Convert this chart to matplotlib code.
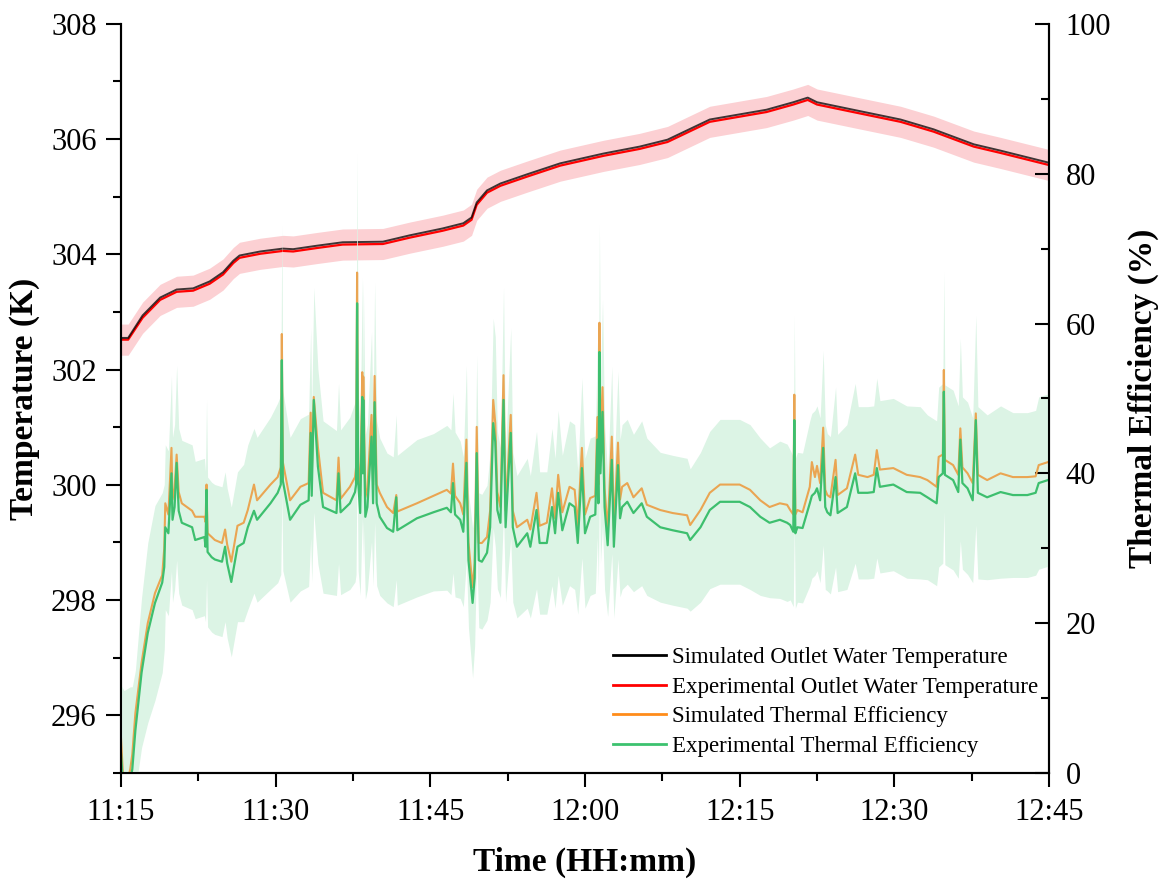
import numpy as np
import matplotlib.pyplot as plt
from matplotlib.lines import Line2D
from matplotlib.ticker import MultipleLocator

plt.rcParams['font.family'] = ['Liberation Serif', 'DejaVu Serif']

# Time axis in minutes after 11:15
time_ticks = [0, 15, 30, 45, 60, 75, 90]
time_labels = ['11:15', '11:30', '11:45', '12:00', '12:15', '12:30', '12:45']

# Outlet water temperature (K)
temp_time = [0, 0.7, 2.1, 3.8, 5.4, 7.0, 8.6, 9.9, 10.9, 11.5,
             13.5, 15.7, 16.7, 19.0, 21.5, 25.4, 28.0, 31.2, 33.2, 34.0,
             34.5, 35.5, 36.8, 39.4, 42.6, 46.8, 50.3, 53.0, 57.1, 62.6,
             65.2, 66.6, 67.5, 71.0, 75.6, 78.8, 82.7, 85.3, 90.0]
temp_exp = [302.52, 302.52, 302.90, 303.21, 303.35, 303.37, 303.49, 303.65, 303.85, 303.94,
            304.01, 304.06, 304.05, 304.11, 304.17, 304.18, 304.29, 304.41, 304.50, 304.60,
            304.86, 305.07, 305.19, 305.35, 305.54, 305.71, 305.83, 305.95, 306.30, 306.47,
            306.60, 306.68, 306.60, 306.47, 306.30, 306.13, 305.87, 305.76, 305.55]
temp_sim = [302.55, 302.55, 302.94, 303.25, 303.39, 303.41, 303.53, 303.69, 303.89, 303.98,
            304.05, 304.10, 304.09, 304.15, 304.21, 304.22, 304.33, 304.45, 304.54, 304.64,
            304.90, 305.11, 305.23, 305.39, 305.58, 305.75, 305.87, 305.99, 306.34, 306.51,
            306.64, 306.72, 306.64, 306.51, 306.34, 306.17, 305.91, 305.80, 305.59]
temp_unc = 0.27

# Thermal efficiency (%)
eff_time = [0.0, 0.3, 0.9, 1.1, 1.4, 2.0, 2.6, 3.3, 4.0, 4.2,
            4.3, 4.6, 4.9, 5.0, 5.2, 5.4, 5.6, 5.9, 6.9, 7.2,
            8.1, 8.2, 8.3, 8.4, 8.8, 9.1, 9.8, 10.1, 10.3, 10.7,
            11.3, 11.9, 12.3, 12.9, 13.2, 14.5, 15.2, 15.5, 15.6, 15.7,
            16.4, 17.4, 18.2, 18.4, 18.5, 18.7, 19.1, 19.6, 20.9, 21.1,
            21.3, 22.2, 22.7, 22.8, 22.9, 23.0, 23.2, 23.4, 23.45, 23.5,
            23.7, 23.9, 24.3, 24.45, 24.6, 24.8, 25.1, 25.8, 26.4, 26.7,
            26.8, 28.7, 30.3, 31.6, 32.0, 32.2, 32.4, 32.9, 33.2, 33.5,
            33.7, 34.1, 34.3, 34.5, 34.7, 35.0, 35.5, 35.8, 36.1, 36.3,
            36.5, 36.8, 37.1, 37.3, 37.8, 38.0, 38.4, 39.4, 39.7, 40.3,
            40.6, 41.3, 41.8, 42.1, 42.4, 42.8, 43.5, 44.0, 44.3, 44.7,
            45.0, 45.5, 46.0, 46.2, 46.3, 46.4, 46.5, 46.7, 46.9, 47.2,
            47.6, 47.8, 48.2, 48.4, 48.6, 49.1, 49.7, 50.5, 51.0, 52.3,
            53.5, 54.9, 55.2, 56.2, 57.1, 58.1, 60.0, 61.0, 62.0, 62.9,
            63.9, 64.6, 64.9, 65.2, 65.3, 65.4, 65.6, 66.1, 66.8, 67.0,
            67.3, 67.5, 67.8, 68.1, 68.3, 68.5, 68.8, 69.3, 69.5, 70.4,
            71.2, 71.5, 72.4, 73.0, 73.3, 73.6, 74.9, 76.2, 77.5, 78.2,
            79.1, 79.3, 79.7, 79.8, 79.9, 80.7, 81.2, 81.4, 81.6, 82.1,
            82.6, 82.9, 83.1, 84.0, 85.3, 86.5, 87.9, 88.7, 89.0, 89.9,
            90.0]
eff_exp = [2.7, -4.0, -1.0, 0.5, 5.7, 13.4, 18.7, 22.7, 25.4, 27.5,
           32.8, 32.0, 40.0, 33.8, 35.5, 41.4, 35.0, 33.4, 32.8, 31.1,
           31.5, 30.2, 37.8, 29.5, 28.8, 28.5, 28.2, 30.2, 28.0, 25.5,
           30.2, 30.7, 32.8, 35.0, 33.8, 36.0, 37.4, 38.5, 55.1, 39.0,
           33.8, 35.8, 36.4, 45.4, 37.0, 49.8, 40.9, 35.5, 34.7, 40.0,
           34.8, 36.0, 37.5, 38.5, 62.7, 39.0, 34.7, 50.2, 40.0, 49.8,
           34.2, 35.5, 44.9, 36.0, 49.5, 36.0, 34.2, 32.7, 32.2, 36.8,
           32.4, 34.0, 34.8, 35.4, 34.8, 38.7, 34.5, 33.8, 32.2, 41.4,
           28.4, 22.7, 26.0, 42.7, 28.4, 28.2, 29.4, 32.8, 46.7, 44.2,
           35.1, 33.4, 49.8, 32.8, 45.4, 32.8, 30.2, 32.0, 30.2, 35.1,
           30.7, 30.7, 35.5, 32.0, 37.4, 32.4, 36.0, 35.5, 30.7, 40.7,
           32.0, 34.2, 34.5, 44.5, 36.0, 56.2, 40.0, 48.2, 35.5, 30.4,
           41.8, 30.2, 41.1, 34.0, 35.5, 36.2, 34.7, 36.0, 34.2, 32.8,
           32.4, 32.0, 31.1, 32.8, 35.1, 36.2, 36.2, 35.5, 34.2, 33.4,
           33.8, 33.4, 33.1, 32.2, 47.1, 32.0, 32.8, 32.7, 36.0, 37.0,
           37.4, 38.0, 36.4, 43.4, 35.5, 34.8, 34.4, 39.5, 34.7, 35.5,
           40.0, 37.4, 37.4, 37.5, 40.7, 38.2, 38.5, 37.5, 37.4, 36.8,
           36.0, 39.5, 40.0, 50.9, 39.8, 39.1, 37.5, 44.5, 38.7, 38.0,
           36.4, 47.1, 37.4, 36.8, 37.5, 37.1, 37.1, 37.4, 38.7, 39.1,
           39.2]
eff_sim = [4.8, -3.0, 0.5, 2.5, 8.0, 14.7, 20.0, 24.0, 26.4, 30.0,
           36.0, 34.5, 43.4, 36.5, 38.0, 42.5, 37.5, 36.0, 35.0, 34.2,
           34.2, 33.5, 38.5, 32.0, 31.5, 31.1, 30.7, 32.5, 30.5, 28.2,
           33.0, 33.4, 35.1, 38.5, 36.4, 38.5, 39.5, 40.8, 58.6, 41.5,
           36.4, 38.2, 38.7, 48.1, 39.5, 50.2, 43.5, 37.4, 36.4, 42.1,
           36.6, 38.2, 39.5, 40.8, 66.8, 41.5, 37.0, 53.5, 43.0, 52.9,
           36.8, 38.0, 47.8, 38.5, 53.0, 38.5, 37.4, 35.5, 34.7, 37.1,
           34.9, 36.0, 37.0, 37.8, 37.3, 41.3, 37.0, 36.0, 34.5, 44.5,
           30.8, 24.8, 28.0, 46.2, 30.7, 30.7, 31.5, 35.0, 49.8, 46.7,
           37.5, 35.5, 53.1, 35.0, 47.8, 35.0, 32.8, 33.8, 32.5, 37.4,
           33.0, 33.4, 38.0, 34.0, 39.8, 34.8, 38.2, 37.8, 33.0, 43.4,
           34.5, 36.7, 37.0, 47.5, 38.5, 60.1, 42.5, 51.5, 38.0, 32.5,
           44.9, 32.5, 44.1, 36.5, 38.2, 38.7, 36.8, 38.0, 35.8, 35.1,
           34.7, 34.4, 33.1, 35.1, 37.4, 38.5, 38.5, 37.8, 36.4, 35.5,
           36.0, 35.8, 35.1, 34.5, 50.5, 34.5, 35.1, 34.8, 38.2, 41.5,
           39.5, 41.0, 38.7, 46.1, 37.8, 37.1, 36.8, 41.8, 37.1, 38.0,
           42.5, 39.8, 39.5, 39.8, 43.1, 40.5, 40.7, 39.8, 39.5, 39.1,
           38.2, 42.2, 42.5, 53.8, 41.8, 41.1, 39.8, 46.0, 40.8, 40.0,
           38.7, 48.0, 39.8, 39.1, 40.0, 39.5, 39.5, 39.6, 41.1, 41.5,
           41.6]
eff_unc = [9, 15, 12.5, 11, 8, 10, 12, 13, 12, 11,
           11, 11, 13, 11, 11, 13, 11, 11, 11, 10.5,
           10.5, 10, 12, 10, 10, 10, 10, 10, 10, 10,
           10, 10.5, 11, 11, 11, 11.5, 12, 12, 18, 12,
           11, 11.5, 11.5, 14, 11.5, 15, 13, 11.5, 11, 12,
           11, 11.5, 12, 12, 20, 12, 11, 16, 12, 16,
           11, 11, 14, 11, 16, 11, 10.5, 10, 10, 11,
           10, 10.5, 10.5, 11, 11, 12, 11, 10.5, 10, 13,
           9, 10, 9, 13, 9, 9, 9, 10, 14, 14,
           10.5, 10, 15, 10, 14, 10, 9.5, 10, 9.5, 10.5,
           9.5, 9.5, 10.5, 10, 11, 10, 11, 11, 9.5, 12,
           10, 10.5, 10.5, 13, 11, 17, 12, 15, 11, 9.5,
           12.5, 9.5, 12.5, 10.5, 11, 11, 10.5, 11, 10.5, 10,
           10, 10, 9.5, 10, 10.5, 11, 11, 11, 10.5, 10,
           10.5, 10.5, 10, 10, 14, 10, 10, 10, 11, 11,
           11, 11, 11, 13, 11, 10.5, 10.5, 12, 10.5, 11,
           12, 11.5, 11.5, 11.5, 12, 11.5, 11.5, 11.5, 11.5, 11,
           11, 12, 12, 16, 12, 12, 11.5, 13.5, 11.5, 11.5,
           11, 14, 11.5, 11, 11.5, 11, 11, 11, 11.5, 11.5,
           11.5]

fig, ax1 = plt.subplots(figsize=(11.63, 8.84), dpi=100)
fig.subplots_adjust(left=0.104, right=0.902, top=0.973, bottom=0.1256)
ax2 = ax1.twinx()

# temperature with uncertainty band
t_exp = np.array(temp_exp)
ax1.fill_between(temp_time, t_exp - temp_unc, t_exp + temp_unc, color='#fcd0d3', lw=0)
ax1.plot(temp_time, temp_exp, color='#ff0000', lw=1.6)
ax1.plot(temp_time, temp_sim, color='black', lw=1.4, alpha=0.75)

# efficiency with uncertainty band
e_exp = np.array(eff_exp)
e_unc = np.array(eff_unc)
ax2.fill_between(eff_time, e_exp - e_unc, e_exp + e_unc, color='#dcf4e5', lw=0)
ax2.plot(eff_time, eff_sim, color='#eaa552', lw=1.5)
ax2.plot(eff_time, eff_exp, color='#3dbf6e', lw=1.6)

ax1.set_xlim(0, 90)
ax1.set_xticks(time_ticks)
ax1.set_xticklabels(time_labels)
ax1.xaxis.set_minor_locator(MultipleLocator(7.5))
ax1.set_ylim(295, 308)
ax1.yaxis.set_major_locator(MultipleLocator(2))
ax1.yaxis.set_minor_locator(MultipleLocator(1))
ax2.set_ylim(0, 100)
ax2.yaxis.set_major_locator(MultipleLocator(20))
ax2.yaxis.set_minor_locator(MultipleLocator(10))

ax1.tick_params(axis='y', which='major', direction='out', length=10.5, width=1.5, labelsize=22, pad=7)
ax1.tick_params(axis='y', which='minor', direction='out', length=6, width=1.5)
ax1.tick_params(axis='x', which='major', direction='out', length=10, width=1.5, labelsize=22, pad=8)
ax1.tick_params(axis='x', which='minor', direction='out', length=6, width=1.5)
ax2.tick_params(axis='y', which='major', direction='in', length=10, width=1.5, labelsize=22, pad=12)
ax2.tick_params(axis='y', which='minor', direction='in', length=6, width=1.5)

for ax in (ax1, ax2):
    ax.spines['top'].set_visible(False)
    for side in ('left', 'right', 'bottom'):
        ax.spines[side].set_linewidth(1.5)

ax1.set_xlabel('Time (HH:mm)', fontsize=24, fontweight='bold', labelpad=14)
ax1.set_ylabel('Temperature (K)', fontsize=24, fontweight='bold', labelpad=8)
ax2.set_ylabel('Thermal Efficiency (%)', fontsize=24, fontweight='bold', labelpad=12)

handles = [Line2D([], [], color='black', lw=2),
           Line2D([], [], color='#ff0000', lw=2),
           Line2D([], [], color='#ff8c1a', lw=2),
           Line2D([], [], color='#3cc26f', lw=2)]
labels = ['Simulated Outlet Water Temperature', 'Experimental Outlet Water Temperature',
          'Simulated Thermal Efficiency', 'Experimental Thermal Efficiency']
ax2.legend(handles, labels, loc='lower left', bbox_to_anchor=(0.530, 0.021), frameon=False,
           fontsize=16.5, handlelength=2.3, handletextpad=0.3, labelspacing=0.38,
           borderpad=0, borderaxespad=0)

fig.savefig('out.png', dpi=100)
